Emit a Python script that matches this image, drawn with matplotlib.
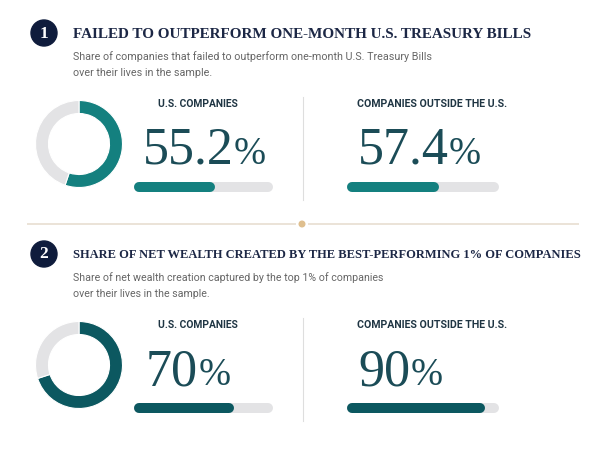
import matplotlib
matplotlib.use('Agg')
import matplotlib.pyplot as plt
from matplotlib.patches import Circle

# ---------------- data ----------------
section_numbers = ['1', '2']
section_titles = ['FAILED TO OUTPERFORM ONE-MONTH U.S. TREASURY BILLS',
                  'SHARE OF NET WEALTH CREATED BY THE BEST-PERFORMING 1% OF COMPANIES']
section_sub1 = ['Share of companies that failed to outperform one-month U.S. Treasury Bills',
                'Share of net wealth creation captured by the top 1% of companies']
section_sub2 = ['over their lives in the sample.', 'over their lives in the sample.']
region_labels = ['U.S. COMPANIES', 'COMPANIES OUTSIDE THE U.S.']
us_values = [55.2, 70]
outside_values = [57.4, 90]
us_value_text = ['55.2', '70']
outside_value_text = ['57.4', '90']

# ---------------- style ----------------
W, H = 602, 451
TEAL = ['#14807f', '#0c5860']
TRACK = '#e3e3e5'
NAVY = '#0f1c3c'
TITLE_C = '#1c2745'
NUM_C = '#1b4c57'
LABEL_C = '#1f3543'
SUB_C = '#666666'
SERIF = 'Liberation Serif'
SANS = 'Roboto'

fig = plt.figure(figsize=(W / 100, H / 100), dpi=100)
fig.patch.set_facecolor('white')
ax = fig.add_axes([0, 0, 1, 1])
ax.set_xlim(0, W)
ax.set_ylim(H, 0)
ax.axis('off')
renderer = fig.canvas.get_renderer()


def px_axes(x, y, w, h):
    return fig.add_axes([x / W, 1 - (y + h) / H, w / W, h / H])


def text_width(t):
    return t.get_window_extent(renderer).width


def fit(t, target):
    t.set_fontsize(t.get_fontsize() * target / text_width(t))


def donut(cx, cy, r, value, color):
    a = px_axes(cx - r - 1, cy - r - 1, 2 * r + 2, 2 * r + 2)
    a.pie([value, 100 - value], colors=[color, TRACK], startangle=90,
          counterclock=False, radius=r / (r + 1),
          wedgeprops=dict(width=13 / (r + 1), edgecolor='white', linewidth=0.8))
    a.set_xlim(-1, 1)
    a.set_ylim(-1, 1)
    a.axis('off')


def progress(x0, x1, cy, value, color, thick=10):
    a = px_axes(x0 + thick / 2, cy - thick / 2, x1 - x0 - thick, thick)
    a.set_xlim(0, 100)
    a.set_ylim(-1, 1)
    a.axis('off')
    lw = thick * 72 / 100
    a.plot([0, 100], [0, 0], color=TRACK, lw=lw, solid_capstyle='round', clip_on=False)
    a.plot([0, value], [0, 0], color=color, lw=lw, solid_capstyle='round', clip_on=False)


def big_number(x, base, s, fs=37.5):
    t = ax.text(x, base, s, fontsize=fs, family=SERIF, color=NUM_C,
                ha='left', va='baseline')
    w = text_width(t)
    ax.text(x + w, base, '%', fontsize=fs * 0.74, family=SERIF, color=NUM_C,
            ha='left', va='baseline')


offsets = [0, 221]
title_targets = [457, 506]
sub_targets = [359, 310]

for i in range(2):
    oy = offsets[i]
    # badge
    ax.add_patch(Circle((44, 33 + oy), 13, color=NAVY, zorder=3))
    ax.text(44, 33.5 + oy, section_numbers[i], fontsize=12.5, family=SERIF, weight='bold',
            color='white', ha='center', va='center', zorder=4)
    # title
    t = ax.text(73, 37.5 + oy, section_titles[i], fontsize=12, family=SERIF,
                weight='bold', color=TITLE_C, ha='left', va='baseline')
    fit(t, title_targets[i])
    # subtitles
    s1 = ax.text(73, 57 + oy, section_sub1[i], fontsize=9, family=SANS, color=SUB_C,
                 ha='left', va='center')
    fit(s1, sub_targets[i])
    ax.text(73, 73 + oy, section_sub2[i], fontsize=s1.get_fontsize(), family=SANS,
            color=SUB_C, ha='left', va='center')
    # donut
    donut(79, 144 + oy, 43.5, us_values[i], TEAL[i])
    # labels
    l1 = ax.text(198, 104 + oy, region_labels[0], fontsize=8, family=SANS, weight='bold',
                 color=LABEL_C, ha='center', va='center')
    fit(l1, 80)
    l2 = ax.text(432, 104 + oy, region_labels[1], fontsize=8, family=SANS, weight='bold',
                 color=LABEL_C, ha='center', va='center')
    fit(l2, 150)
    # numbers
    big_number(143 if i == 0 else 146, 164 + oy, us_value_text[i])
    big_number(358, 164 + oy, outside_value_text[i])
    # bars
    progress(134, 273, 187 + oy, us_values[i], TEAL[i])
    progress(347, 499, 187 + oy, outside_values[i], TEAL[i])
    # vertical divider
    ax.plot([303, 303], [97 + oy, 200 + oy], color='#dedede', lw=0.8)

# separator
ax.plot([27, 296], [224, 224], color='#e9e1d4', lw=1.3, solid_capstyle='butt')
ax.plot([308, 579], [224, 224], color='#e9e1d4', lw=1.3, solid_capstyle='butt')
ax.add_patch(Circle((302, 224), 2.8, color='#dfbf8e'))

fig.savefig('out.png', dpi=100, facecolor='white')
